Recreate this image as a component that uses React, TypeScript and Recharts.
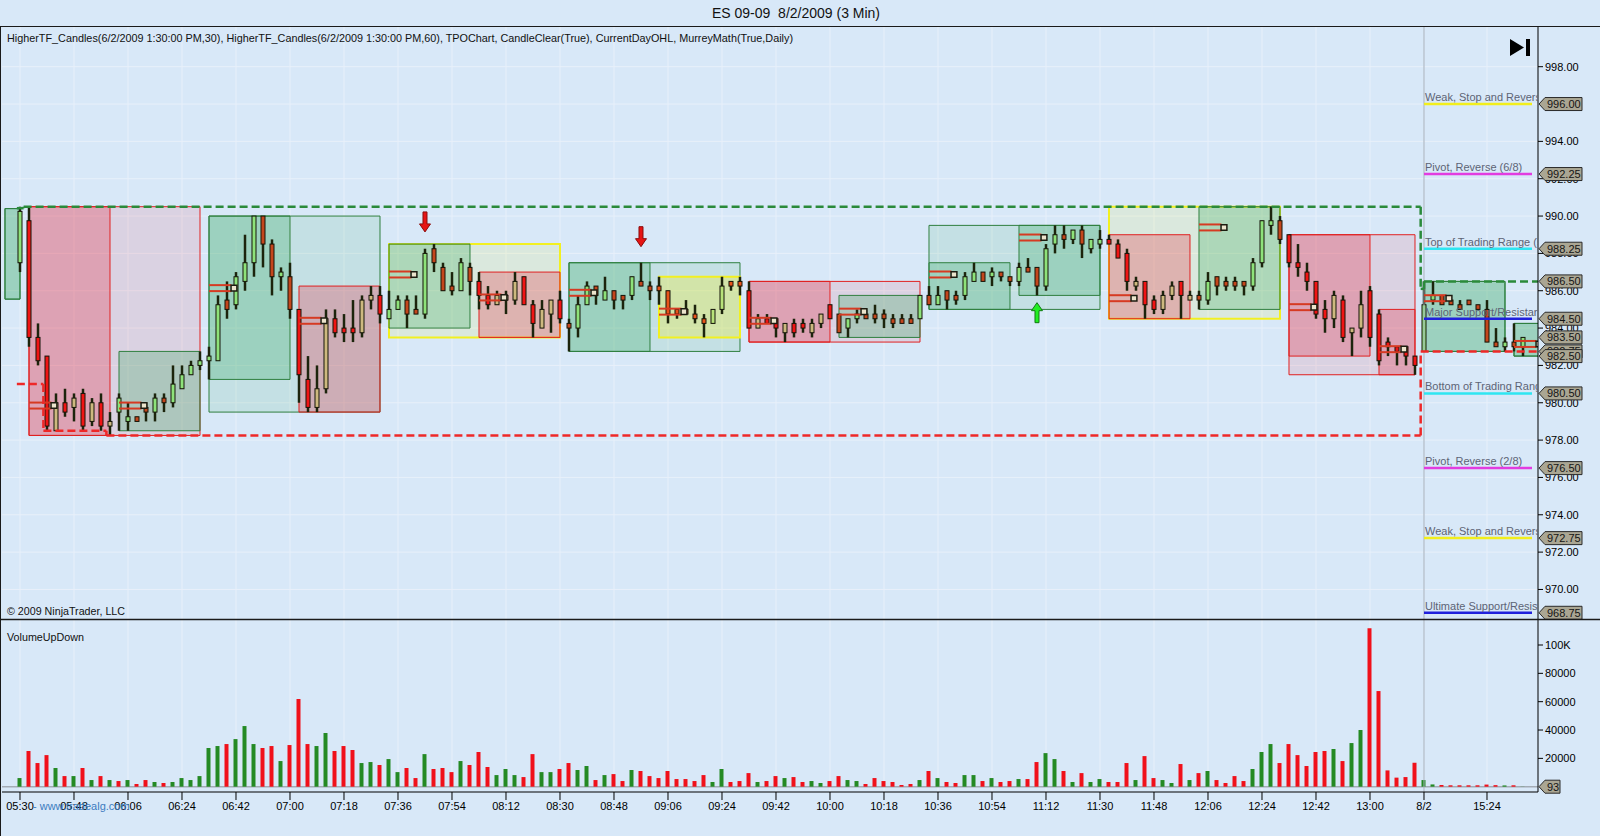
import React from 'react';
import {
  ComposedChart,
  Bar,
  XAxis,
  YAxis,
  CartesianGrid,
  ReferenceArea,
  ReferenceLine,
  ReferenceDot,
} from 'recharts';

const FONT = '"Liberation Sans", Arial, Helvetica, sans-serif';
const BG = '#d8e8f8';
const GRID = '#e8f0fa';

// ---------------- data ----------------
const opens = [
  987.5, 989.75, 983.5, 982.5, 978.5, 980.0, 979.75, 980.5, 979.0, 980.0,
  978.75, 979.5, 979.0, 979.25, 979.75, 979.5, 980.25, 980.0, 980.75, 981.5,
  982.0, 982.25, 982.25, 985.5, 985.25, 986.5, 987.5, 990.0, 988.5, 986.75,
  986.75, 985.0, 981.25, 979.75, 980.75, 984.5, 984.0, 984.0, 983.75, 985.5,
  985.75, 984.5, 985.0, 985.5, 985.0, 984.75, 988.25, 987.25, 986.25, 986.0,
  987.25, 986.5, 985.75, 985.25, 985.5, 985.5, 986.75, 985.25, 984.0, 984.75,
  985.5, 984.25, 984.0, 985.25, 986.25, 985.5, 986.0, 985.75, 985.75, 986.5,
  986.25, 986.25, 986.0, 985.0, 985.0, 984.75, 984.5, 984.25, 985.0, 986.5,
  986.5, 986.0, 984.0, 984.5, 984.5, 983.75, 984.25, 984.25, 983.75, 984.25,
  985.25, 984.75, 984.0, 984.5, 984.75, 984.75, 984.75, 984.5, 984.5, 984.5,
  984.5, 985.75, 985.25, 986.0, 985.75, 985.75, 986.5, 987.0, 986.75, 987.0,
  986.75, 986.5, 987.25, 987.25, 986.25, 988.5, 989.0, 988.75, 989.25, 988.25,
  988.5, 988.75, 988.5, 988.0, 986.25, 986.5, 985.5, 985.0, 985.75, 986.5,
  985.5, 985.75, 985.5, 986.75, 986.5, 986.5, 986.5, 986.25, 987.5, 989.5,
  989.75, 989.0, 987.5, 987.0, 986.5, 985.0, 984.5, 985.5, 983.75, 984.0,
  986.0, 984.75, 983.25, 983.0, 983.0, 982.5, 982.75, 985.5, 985.75, 985.5,
  985.25, 985.5, 985.25, 985.0, 983.25, 983.0, 983.25, 983.0,
];
const highs = [
  990.5, 990.5, 984.25, 982.5, 980.5, 980.75, 980.5, 980.75, 980.25, 980.5,
  979.5, 980.5, 980.0, 979.25, 980.0, 980.5, 980.5, 982.0, 982.0, 982.25,
  982.75, 983.0, 985.75, 986.5, 987.0, 989.0, 990.0, 990.0, 988.75, 987.25,
  987.5, 985.0, 982.5, 982.0, 985.0, 985.0, 984.75, 985.5, 985.75, 986.25,
  986.25, 986.0, 985.75, 985.75, 985.75, 988.25, 988.5, 987.5, 987.0, 987.75,
  987.5, 987.0, 986.25, 986.0, 986.0, 987.0, 986.75, 985.5, 985.5, 985.5,
  986.0, 984.5, 985.75, 986.5, 986.25, 986.75, 986.0, 985.75, 986.75, 987.5,
  986.5, 986.75, 986.0, 985.0, 985.5, 985.25, 984.75, 985.0, 986.75, 986.5,
  986.75, 986.5, 984.75, 984.75, 984.5, 984.25, 984.5, 984.5, 984.5, 984.75,
  985.25, 984.75, 984.5, 985.0, 985.0, 985.25, 985.0, 984.75, 984.75, 984.75,
  985.75, 986.25, 986.25, 986.0, 986.0, 987.0, 987.5, 987.0, 987.25, 987.0,
  986.75, 987.5, 987.75, 987.25, 988.5, 989.5, 989.5, 989.25, 989.5, 988.75,
  989.25, 989.0, 988.75, 988.25, 986.75, 986.5, 985.75, 986.0, 986.5, 986.5,
  986.0, 986.0, 987.0, 986.75, 986.75, 986.75, 986.5, 987.75, 989.75, 990.5,
  990.0, 989.0, 988.5, 987.5, 986.5, 985.5, 986.0, 985.75, 984.0, 986.0,
  986.25, 985.0, 983.5, 983.0, 983.0, 982.5, 986.5, 986.5, 985.75, 985.5,
  985.5, 985.5, 985.25, 985.5, 984.0, 983.5, 984.25, 983.5,
];
const lows = [
  987.0, 983.0, 982.0, 978.5, 978.5, 979.25, 979.0, 978.5, 978.75, 978.5,
  978.25, 978.5, 978.5, 979.0, 979.0, 979.0, 979.5, 979.75, 980.75, 981.5,
  981.75, 981.25, 982.25, 984.5, 985.0, 986.0, 986.75, 987.25, 985.75, 986.0,
  984.5, 980.0, 979.5, 979.5, 980.5, 983.5, 983.25, 983.25, 983.5, 985.0,
  984.25, 984.5, 985.0, 984.0, 984.75, 984.5, 987.0, 986.0, 985.75, 986.0,
  985.75, 985.0, 985.0, 985.25, 984.75, 985.25, 985.25, 983.5, 984.0, 983.75,
  984.25, 982.75, 983.5, 985.25, 985.25, 985.5, 985.0, 985.0, 985.5, 986.25,
  985.5, 985.25, 984.25, 984.5, 984.75, 984.25, 983.5, 984.25, 984.75, 986.0,
  985.75, 984.0, 984.0, 984.25, 983.5, 983.25, 983.5, 983.75, 983.5, 984.0,
  984.5, 983.75, 983.5, 984.25, 984.5, 984.25, 984.0, 984.0, 984.25, 984.25,
  984.5, 985.25, 985.25, 985.0, 985.25, 985.5, 986.5, 986.5, 986.25, 986.5,
  986.25, 986.25, 987.0, 985.75, 986.0, 988.0, 988.25, 988.5, 987.75, 988.0,
  988.25, 988.5, 987.75, 986.0, 986.0, 984.5, 984.75, 984.75, 985.5, 984.5,
  985.5, 985.0, 985.25, 985.75, 986.0, 986.0, 985.75, 986.0, 987.25, 989.0,
  988.5, 987.25, 986.75, 986.0, 984.5, 983.75, 984.0, 983.25, 982.5, 983.5,
  983.0, 982.0, 982.5, 982.0, 982.0, 981.5, 982.75, 985.25, 985.25, 985.25,
  985.0, 985.25, 985.0, 983.25, 983.0, 982.75, 982.75, 982.5,
];
const closes = [
  990.25, 983.5, 982.25, 978.75, 980.0, 979.5, 980.25, 978.75, 980.0, 978.75,
  979.0, 980.25, 979.25, 979.0, 979.5, 980.25, 980.0, 981.0, 981.5, 982.0,
  982.25, 982.5, 985.25, 985.0, 986.75, 987.5, 990.0, 988.5, 986.75, 987.0,
  985.0, 981.5, 979.75, 980.75, 984.5, 983.75, 983.75, 983.75, 985.5, 985.75,
  984.75, 985.0, 985.5, 984.75, 984.75, 988.0, 987.5, 986.0, 986.0, 987.5,
  986.5, 985.75, 985.25, 985.75, 985.75, 986.5, 985.25, 984.25, 985.0, 985.5,
  984.5, 984.0, 985.25, 986.25, 985.75, 986.0, 985.5, 985.5, 986.75, 986.25,
  986.0, 986.0, 984.75, 984.75, 984.75, 984.5, 984.25, 985.0, 986.25, 986.25,
  986.25, 984.0, 984.5, 984.25, 984.0, 984.25, 983.75, 984.0, 984.25, 984.75,
  984.5, 983.75, 984.5, 984.75, 984.5, 984.5, 984.5, 984.25, 984.25, 984.25,
  985.75, 985.25, 985.75, 985.5, 985.5, 986.75, 987.0, 986.5, 987.0, 986.75,
  986.5, 987.25, 987.0, 986.25, 988.25, 989.0, 988.75, 989.25, 988.5, 988.75,
  988.75, 988.5, 987.75, 986.5, 986.5, 985.25, 985.0, 985.75, 986.25, 985.75,
  985.75, 985.5, 986.5, 986.25, 986.25, 986.25, 986.25, 987.5, 989.75, 989.75,
  988.75, 987.5, 987.25, 986.5, 984.75, 984.5, 985.75, 983.5, 984.0, 985.25,
  983.5, 982.25, 983.0, 982.75, 982.5, 982.0, 985.25, 985.75, 985.25, 985.25,
  985.0, 985.25, 985.0, 983.25, 983.0, 983.25, 983.0, 983.5,
];
const upVolume = [
  6100, 0, 0, 0, 13200, 0, 7500, 0, 4700, 0,
  4700, 0, 4700, 0, 0, 3300, 0, 3300, 6100, 4700,
  7500, 27300, 28700, 0, 33600, 42800, 30100, 0, 0, 18100,
  0, 0, 0, 28700, 37900, 0, 0, 0, 16700, 17400,
  0, 19500, 10300, 0, 0, 23000, 0, 0, 0, 18100,
  0, 0, 0, 8200, 12500, 8200, 0, 0, 10300, 10300,
  0, 0, 11800, 14600, 0, 8200, 0, 0, 11800, 0,
  0, 0, 0, 0, 0, 0, 0, 3300, 12500, 0,
  0, 0, 3300, 0, 0, 6100, 0, 0, 4000, 2600,
  0, 0, 4700, 4000, 0, 0, 0, 0, 0, 0,
  4700, 0, 6100, 0, 0, 8200, 8200, 0, 6100, 0,
  0, 5400, 0, 0, 23700, 19500, 0, 3300, 0, 3300,
  5400, 0, 0, 0, 4700, 0, 0, 4700, 2600, 0,
  4700, 0, 11100, 0, 0, 0, 0, 12500, 24500, 30100,
  0, 0, 0, 0, 0, 0, 26600, 0, 30800, 40000,
  0, 0, 0, 0, 0, 0, 4700, 1600, 0, 0,
  0, 0, 0, 0, 0, 900, 0, 93,
];
const downVolume = [
  0, 25200, 16700, 22300, 0, 7500, 0, 13200, 0, 7500,
  0, 4000, 0, 1900, 4700, 0, 2600, 0, 0, 0,
  0, 0, 0, 30100, 0, 0, 0, 27300, 28700, 0,
  29400, 61900, 30100, 0, 0, 25200, 28700, 25900, 0, 0,
  15300, 0, 0, 13200, 6100, 0, 12500, 13200, 10300, 0,
  15300, 24500, 13900, 0, 0, 0, 6800, 23000, 0, 0,
  12500, 16700, 0, 0, 4700, 0, 8900, 4000, 0, 11100,
  7500, 6100, 11100, 5400, 5400, 4000, 8200, 0, 0, 3300,
  4000, 9600, 0, 4000, 7500, 0, 6800, 3300, 0, 0,
  4000, 7500, 0, 0, 1900, 6100, 4000, 3300, 1200, 1900,
  0, 11100, 0, 3300, 2600, 0, 0, 4000, 0, 3300,
  4000, 0, 5400, 17400, 0, 0, 11100, 0, 9600, 0,
  0, 3300, 3300, 16700, 0, 21600, 6100, 0, 0, 16000,
  0, 9600, 0, 4700, 2600, 7500, 4000, 0, 0, 0,
  16700, 30100, 22300, 14600, 24500, 25200, 0, 18100, 0, 0,
  111900, 67500, 11500, 6400, 6800, 16900, 0, 0, 1200, 1000,
  1000, 1000, 1000, 1500, 1100, 0, 1000, 0,
];

const xTickIndex = [0, 6, 12, 18, 24, 30, 36, 42, 48, 54, 60, 66, 72, 78, 84, 90, 96, 102, 108, 114, 120, 126, 132, 138, 144, 150, 156, 163];
const xTickLabels = ['05:30', '05:48', '06:06', '06:24', '06:42', '07:00', '07:18', '07:36', '07:54', '08:12', '08:30', '08:48', '09:06', '09:24', '09:42', '10:00', '10:18', '10:36', '10:54', '11:12', '11:30', '11:48', '12:06', '12:24', '12:42', '13:00', '8/2', '15:24'];
const priceTicks = [970, 972, 974, 976, 978, 980, 982, 984, 986, 988, 990, 992, 994, 996, 998];
const volumeTicks = [20000, 40000, 60000, 80000, 100000];
const sessionStart = 156;

// higher timeframe periods (bar index ranges)
const htf30Start = [1, 11, 21, 31, 41, 51, 61, 71, 81, 91, 101, 111, 121, 131, 141, 151, 156, 166];
const htf30End = [10, 20, 30, 40, 50, 60, 70, 80, 90, 100, 110, 120, 130, 140, 150, 155, 165, 175];
const htf60Start = [1, 21, 41, 61, 81, 101, 121, 141, 156, 166];
const htf60End = [20, 40, 60, 80, 100, 120, 140, 155, 165, 185];
const prevPeriodStart = -1.67;
const prevPeriodHigh = 990.4;
const prevPeriodLow = 985.55;

// TPO point-of-control per 30-min period
const pocPrices = [979.85, 979.85, 986.14, 984.39, 986.87, 985.64, 985.89, 984.88, 984.39, 984.88, 986.87, 988.85, 985.6, 989.39, 985.12, 982.87, 985.6, 983.15];

// Murrey Math levels
const murreyLevels = [996.0, 992.25, 988.25, 984.5, 980.5, 976.5, 972.75, 968.75];
const murreyNames = [
  'Weak, Stop and Reverse (7/8)',
  'Pivot, Reverse (6/8)',
  'Top of Trading Range (5/8)',
  'Major Support/Resistance (4/8)',
  'Bottom of Trading Range (3/8)',
  'Pivot, Reverse (2/8)',
  'Weak, Stop and Reverse (1/8)',
  'Ultimate Support/Resistance (0/8)',
];
const murreyColors = ['#f2ee1c', '#e23ce0', '#2ee6f2', '#2020dc', '#2ee6f2', '#e23ce0', '#f2ee1c', '#2020dc'];

// current day OHL (running high / low)
const dayHighX = [-0.35, 0.4, 0.4, 155.63, 155.63, 156, 156, 168.66];
const dayHighY = [990.42, 990.42, 990.5, 990.5, 986.1, 986.1, 986.5, 986.5];
const dayLowX = [-0.35, 2.6, 2.6, 9.6, 9.6, 155.63, 155.63, 168.66];
const dayLowY = [981.0, 981.0, 978.5, 978.5, 978.25, 978.25, 982.75, 982.75];

// price markers on the right axis (drawn in this order)
const priceTagValues = [996.0, 992.25, 988.25, 986.5, 984.5, 982.75, 983.5, 982.5, 980.5, 976.5, 972.75, 968.75];

// signal arrows
const arrowIndex = [45, 69, 113];
const arrowPrice = [989.15, 988.36, 985.36];
const arrowDir = [-1, -1, 1];

// ---------------- derived ----------------
const X_MIN = -2;
const X_MAX = 168.6667;
const P_MIN = 968.364;
const P_MAX = 1000.126;
const V_MIN = -3740;
const V_MAX = 118349;

const lastIndex = opens.length - 1;

const candles = opens.map((o, k) => ({
  i: k,
  open: o,
  high: highs[k],
  low: lows[k],
  close: closes[k],
  range: [lows[k], highs[k]],
}));
const volData = opens.map((_, k) => ({ i: k, up: upVolume[k], down: downVolume[k] }));

type Box = { s: number; e: number; hi: number; lo: number; dir: number };
function periodBox(s: number, e: number): Box {
  const last = Math.min(e, lastIndex);
  let hi = -Infinity;
  let lo = Infinity;
  for (let k = s; k <= last; k++) {
    hi = Math.max(hi, highs[k]);
    lo = Math.min(lo, lows[k]);
  }
  return { s, e, hi, lo, dir: Math.sign(closes[last] - opens[s]) };
}
const boxes30 = htf30Start.map((s, k) => periodBox(s, htf30End[k]));
const boxes60 = htf60Start.map((s, k) => periodBox(s, htf60End[k]));
const prevBox: Box = { s: prevPeriodStart, e: 0, hi: prevPeriodHigh, lo: prevPeriodLow, dir: 1 };

function dir30(k: number) {
  const b = boxes30.find((bx) => k >= bx.s && k <= bx.e);
  return b ? b.dir : 1;
}

const boxFill = (d: number) => (d > 0 ? '#0f9a3c' : d < 0 ? '#e8142a' : '#f2f020');
const boxStroke = (d: number) => (d > 0 ? '#2f7f3f' : d < 0 ? '#e02020' : '#f2f020');

function candleColor(k: number, up: boolean) {
  const d = dir30(k);
  if (up) return d > 0 ? '#8ee27a' : d < 0 ? '#cdb97f' : '#b8e27a';
  return d > 0 ? '#c4461c' : d < 0 ? '#f01414' : '#e8541a';
}

const WICK = '#1c240c';
const BODY_STROKE = '#141408';

const renderCandle = (props: any) => {
  const { x, y, width, height, payload } = props;
  if (!payload || x == null || y == null) return <g />;
  const cx = x + width / 2;
  const top = Math.min(y, y + height);
  const span = Math.abs(height);
  const sc = span / (payload.high - payload.low);
  const py = (p: number) => top + (payload.high - p) * sc;
  const yo = py(payload.open);
  const yc = py(payload.close);
  const up = payload.close > payload.open;
  const flat = payload.close === payload.open;
  return (
    <g>
      <line x1={cx} x2={cx} y1={top} y2={top + span} stroke={WICK} strokeWidth={2.5} />
      {flat ? (
        <line x1={cx - 3} x2={cx + 3} y1={yo} y2={yo} stroke={WICK} strokeWidth={1.5} />
      ) : (
        <rect
          x={cx - 2}
          y={Math.min(yo, yc)}
          width={4}
          height={Math.max(Math.abs(yc - yo), 1)}
          fill={candleColor(payload.i, up)}
          stroke={BODY_STROKE}
          strokeWidth={1}
        />
      )}
    </g>
  );
};

function Tag({ ax, y, text, w }: { ax: number; y: number; text: string; w: number }) {
  return (
    <g>
      <polygon
        points={`${ax + 1},${y} ${ax + 7},${y - 6.5} ${ax + w},${y - 6.5} ${ax + w},${y + 6.5} ${ax + 7},${y + 6.5}`}
        fill="#aaa693"
        stroke="#2a2a2a"
        strokeWidth={1}
      />
      <text x={ax + 9} y={y} dy={4} fontSize={11} fontFamily={FONT} fill="#141414">
        {text}
      </text>
    </g>
  );
}

const PriceTick = (props: any) => {
  const { x, y, payload } = props;
  const v = payload.value as number;
  const ax = x - 7;
  if (priceTagValues.includes(v)) return <Tag ax={ax} y={y} text={v.toFixed(2)} w={44} />;
  return (
    <g>
      <line x1={ax} x2={ax + 5} y1={y} y2={y} stroke="#000" />
      <text x={ax + 7} y={y} dy={4} fontSize={11} fontFamily={FONT} fill="#000">
        {v.toFixed(2)}
      </text>
    </g>
  );
};

const VolumeTick = (props: any) => {
  const { x, y, payload } = props;
  const v = payload.value as number;
  const ax = x - 7;
  if (v === 0) return <Tag ax={ax} y={y} text={String(upVolume[lastIndex] + downVolume[lastIndex])} w={22} />;
  return (
    <g>
      <line x1={ax} x2={ax + 5} y1={y} y2={y} stroke="#000" />
      <text x={ax + 7} y={y} dy={4} fontSize={11} fontFamily={FONT} fill="#000">
        {v >= 100000 ? `${v / 1000}K` : String(v)}
      </text>
    </g>
  );
};

const arrowShape = (dir: number) => (p: any) => {
  const { cx, cy } = p;
  const s = dir > 0 ? 1 : -1;
  const hb = cy + s * 8;
  const tail = cy + s * 20;
  const pts = [
    [cx, cy],
    [cx + 5.5, hb],
    [cx + 2, hb],
    [cx + 2, tail],
    [cx - 2, tail],
    [cx - 2, hb],
    [cx - 5.5, hb],
  ]
    .map((q) => q.join(','))
    .join(' ');
  return (
    <polygon
      points={pts}
      fill={dir > 0 ? '#22ee22' : '#e61414'}
      stroke={dir > 0 ? '#127a12' : '#8a0c0c'}
      strokeWidth={1}
    />
  );
};

const murreyTextShape = (k: number) => (p: any) => {
  const { cx, cy } = p;
  return (
    <g>
      <defs>
        <clipPath id={`mmclip${k}`}>
          <rect x={cx} y={cy - 16} width={114} height={16} />
        </clipPath>
      </defs>
      <text x={cx + 1} y={cy - 3} fontSize={11} fontFamily={FONT} fill="#5d6475" clipPath={`url(#mmclip${k})`}>
        {murreyNames[k]}
      </text>
    </g>
  );
};

function segs(xs: number[], ys: number[]) {
  const out: { x1: number; y1: number; x2: number; y2: number }[] = [];
  for (let k = 0; k < xs.length - 1; k++) out.push({ x1: xs[k], y1: ys[k], x2: xs[k + 1], y2: ys[k + 1] });
  return out;
}

function renderBox(b: Box, key: string, opacity: number) {
  return (
    <ReferenceArea
      key={key}
      x1={b.s}
      x2={b.e}
      y1={b.lo}
      y2={b.hi}
      fill={boxFill(b.dir)}
      fillOpacity={opacity}
      stroke={boxStroke(b.dir)}
      strokeWidth={b.dir === 0 ? 2 : 1}
      ifOverflow="hidden"
    />
  );
}

function PriceChart() {
  const yTicks = priceTicks.filter((v) => !priceTagValues.includes(v)).concat(priceTagValues);
  return (
    <ComposedChart width={1600} height={620} data={candles} margin={{ top: 27, right: 0, bottom: 0, left: 2 }}>
      <CartesianGrid stroke={GRID} horizontalValues={priceTicks} verticalValues={xTickIndex} />
      <XAxis dataKey="i" type="number" domain={[X_MIN, X_MAX]} allowDataOverflow ticks={xTickIndex} hide />
      <YAxis
        type="number"
        orientation="right"
        width={62}
        domain={[P_MIN, P_MAX]}
        allowDataOverflow
        ticks={yTicks}
        interval={0}
        tickSize={5}
        tickMargin={2}
        tickLine={false}
        axisLine={{ stroke: '#000' }}
        tick={(p: any) => <PriceTick {...p} />}
      />
      {renderBox(prevBox, 'pb60', 0.1)}
      {renderBox(prevBox, 'pb30', 0.22)}
      {boxes60.map((b, k) => renderBox(b, `b60-${k}`, b.dir === 0 ? 0.12 : 0.1))}
      {boxes30.map((b, k) => renderBox(b, `b30-${k}`, b.dir === 0 ? 0.3 : b.dir > 0 ? 0.22 : 0.25))}
      <ReferenceLine x={sessionStart} stroke="#a4afbb" strokeWidth={1} />
      <Bar dataKey="range" barSize={5} shape={renderCandle} isAnimationActive={false} />
      {boxes30.map((b, k) => (
        <ReferenceLine
          key={`pocA${k}`}
          segment={[{ x: b.s, y: pocPrices[k] + 0.16 }, { x: b.s + 2.5, y: pocPrices[k] + 0.16 }]}
          stroke="#d63a22"
          strokeWidth={2}
          ifOverflow="hidden"
        />
      ))}
      {boxes30.map((b, k) => (
        <ReferenceLine
          key={`pocB${k}`}
          segment={[{ x: b.s, y: pocPrices[k] - 0.16 }, { x: b.s + 2.5, y: pocPrices[k] - 0.16 }]}
          stroke="#d63a22"
          strokeWidth={2}
          ifOverflow="hidden"
        />
      ))}
      {boxes30.map((b, k) => (
        <ReferenceArea
          key={`pocBox${k}`}
          x1={b.s + 2.45}
          x2={b.s + 3.1}
          y1={pocPrices[k] - 0.15}
          y2={pocPrices[k] + 0.15}
          fill="#ece4cc"
          fillOpacity={1}
          stroke="#1c1c10"
          strokeWidth={1.5}
          ifOverflow="hidden"
          zIndex={450}
        />
      ))}
      {segs(dayHighX, dayHighY).map((s, k) => (
        <ReferenceLine
          key={`dh${k}`}
          segment={[{ x: s.x1, y: s.y1 }, { x: s.x2, y: s.y2 }]}
          stroke="#2a8a3a"
          strokeWidth={2.5}
          strokeDasharray="8 4"
          ifOverflow="hidden"
        />
      ))}
      {segs(dayLowX, dayLowY).map((s, k) => (
        <ReferenceLine
          key={`dl${k}`}
          segment={[{ x: s.x1, y: s.y1 }, { x: s.x2, y: s.y2 }]}
          stroke="#ee2828"
          strokeWidth={2.5}
          strokeDasharray="8 4"
          ifOverflow="hidden"
        />
      ))}
      {murreyLevels.map((lv, k) => (
        <ReferenceLine
          key={`mm${k}`}
          segment={[{ x: sessionStart, y: lv }, { x: 168, y: lv }]}
          stroke={murreyColors[k]}
          strokeWidth={2.5}
          ifOverflow="hidden"
        />
      ))}
      {murreyLevels.map((lv, k) => (
        <ReferenceDot key={`mmt${k}`} x={sessionStart} y={lv} r={0} shape={murreyTextShape(k)} />
      ))}
      {arrowIndex.map((ix, k) => (
        <ReferenceDot key={`ar${k}`} x={ix} y={arrowPrice[k]} r={0} shape={arrowShape(arrowDir[k])} />
      ))}
    </ComposedChart>
  );
}

function VolumeChart() {
  return (
    <ComposedChart width={1600} height={217} data={volData} margin={{ top: 0, right: 0, bottom: 0, left: 2 }}>
      <CartesianGrid stroke={GRID} horizontal={false} verticalValues={xTickIndex} />
      <XAxis
        dataKey="i"
        type="number"
        domain={[X_MIN, X_MAX]}
        allowDataOverflow
        ticks={xTickIndex}
        interval={0}
        height={44}
        tickSize={8}
        axisLine={{ stroke: '#000' }}
        tickLine={{ stroke: '#000' }}
        tick={{ fontSize: 11, fill: '#000', fontFamily: FONT }}
        tickFormatter={(v: number) => xTickLabels[xTickIndex.indexOf(v)] ?? ''}
      />
      <YAxis
        type="number"
        orientation="right"
        width={62}
        domain={[V_MIN, V_MAX]}
        allowDataOverflow
        ticks={[...volumeTicks, 0]}
        interval={0}
        tickSize={5}
        tickMargin={2}
        tickLine={false}
        axisLine={{ stroke: '#000' }}
        tick={(p: any) => <VolumeTick {...p} />}
      />
      <ReferenceLine y={0} stroke="#a3abb5" strokeWidth={1.5} zIndex={250} />
      <ReferenceLine x={sessionStart} stroke="#a4afbb" strokeWidth={1} />
      <Bar dataKey="up" stackId="v" barSize={4} fill="#248a24" isAnimationActive={false} />
      <Bar dataKey="down" stackId="v" barSize={4} fill="#f0101a" isAnimationActive={false} />
    </ComposedChart>
  );
}

export default function App() {
  return (
    <div
      style={{
        position: 'absolute',
        left: 0,
        top: 0,
        width: 1600,
        height: 836,
        background: BG,
        overflow: 'hidden',
        fontFamily: FONT,
      }}
    >
      <div style={{ position: 'absolute', left: 0, top: 0 }}>
        <PriceChart />
      </div>
      <div style={{ position: 'absolute', left: 0, top: 619 }}>
        <VolumeChart />
      </div>
      <svg
        width={1600}
        height={836}
        style={{ position: 'absolute', left: 0, top: 0, pointerEvents: 'none' }}
      >
        <text x={796} y={18} textAnchor="middle" fontSize={14} fontFamily={FONT} fill="#111" style={{ whiteSpace: 'pre' }}>
          {'ES 09-09  8/2/2009 (3 Min)'}
        </text>
        <line x1={0} x2={1600} y1={26.5} y2={26.5} stroke="#1a1a1a" strokeWidth={1} />
        <line x1={0.5} x2={0.5} y1={26.5} y2={836} stroke="#1a1a1a" strokeWidth={1} />
        <line x1={0} x2={1600} y1={619.5} y2={619.5} stroke="#1a1a1a" strokeWidth={1.5} />
        <text
          x={7}
          y={42}
          fontSize={11}
          fontFamily={FONT}
          fill="#111"
          textLength={786}
          lengthAdjust="spacingAndGlyphs"
        >
          HigherTF_Candles(6/2/2009 1:30:00 PM,30), HigherTF_Candles(6/2/2009 1:30:00 PM,60), TPOChart, CandleClear(True), CurrentDayOHL, MurreyMath(True,Daily)
        </text>
        <text x={7} y={615} fontSize={11} fontFamily={FONT} fill="#111" textLength={118} lengthAdjust="spacingAndGlyphs">
          © 2009 NinjaTrader, LLC
        </text>
        <text x={7} y={641} fontSize={11} fontFamily={FONT} fill="#111" textLength={77} lengthAdjust="spacingAndGlyphs">
          VolumeUpDown
        </text>
        <text x={33} y={810} fontSize={11} fontFamily={FONT} fill="#3c7cc0">
          - www.tradealg.com
        </text>
        <polygon points="1510,39 1510,56 1524,47.5" fill="#000" />
        <rect x={1526} y={39} width={4} height={17} fill="#000" />
      </svg>
    </div>
  );
}
